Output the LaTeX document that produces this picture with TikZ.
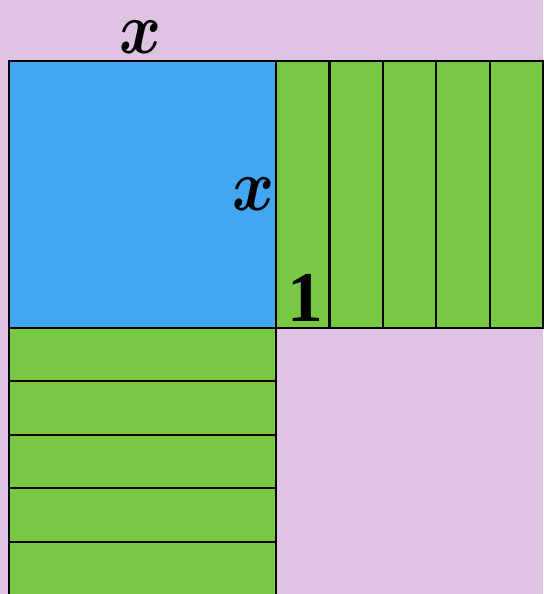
\RequirePackage{fix-cm}
\documentclass[tikz,border=0pt]{standalone}
\usepackage{fontspec}
\setmainfont{Liberation Serif}
\definecolor{bgpink}{HTML}{DEC3E3}
\definecolor{sqblue}{HTML}{42A6F2}
\definecolor{stripgreen}{HTML}{79C843}
\tikzset{
  sq/.style={fill=sqblue, draw=black, line width=1.1pt},
  strip/.style={fill=stripgreen, draw=black, line width=1.1pt},
  varlabel/.style={font=\fontsize{34}{38}\selectfont\boldmath, inner sep=0pt, yscale=1.15},
  unitlabel/.style={font=\fontsize{38}{40}\selectfont\bfseries, inner sep=0pt}
}
\begin{document}
\begin{tikzpicture}

  \fill[bgpink] (-0.1685,-4.98) rectangle (10,6.14);
  \useasboundingbox (-0.1685,-4.98) rectangle (10,6.14);

  \begin{scope}
  \filldraw[sq] (0,0) rectangle (5,5);
  \node[varlabel] (xtop) at (2.47,5.44) {$x$};
  \node[varlabel] (xside) at (4.57,2.50) {$x$};
  \end{scope}

  \begin{scope}[shift={(5,0)}]
  \filldraw[strip] (0,0) rectangle (1,5);
  \filldraw[strip] (1,0) rectangle (2,5);
  \filldraw[strip] (2,0) rectangle (3,5);
  \filldraw[strip] (3,0) rectangle (4,5);
  \filldraw[strip] (4,0) rectangle (5,5);
  \node[unitlabel] (one) at (0.55,0.57) {1};
  \end{scope}

  \begin{scope}[shift={(0,-5)}]
  \filldraw[strip] (0,4) rectangle (5,5);
  \filldraw[strip] (0,3) rectangle (5,4);
  \filldraw[strip] (0,2) rectangle (5,3);
  \filldraw[strip] (0,1) rectangle (5,2);
  \filldraw[strip] (0,0) rectangle (5,1);
  \end{scope}

\end{tikzpicture}
\end{document}
